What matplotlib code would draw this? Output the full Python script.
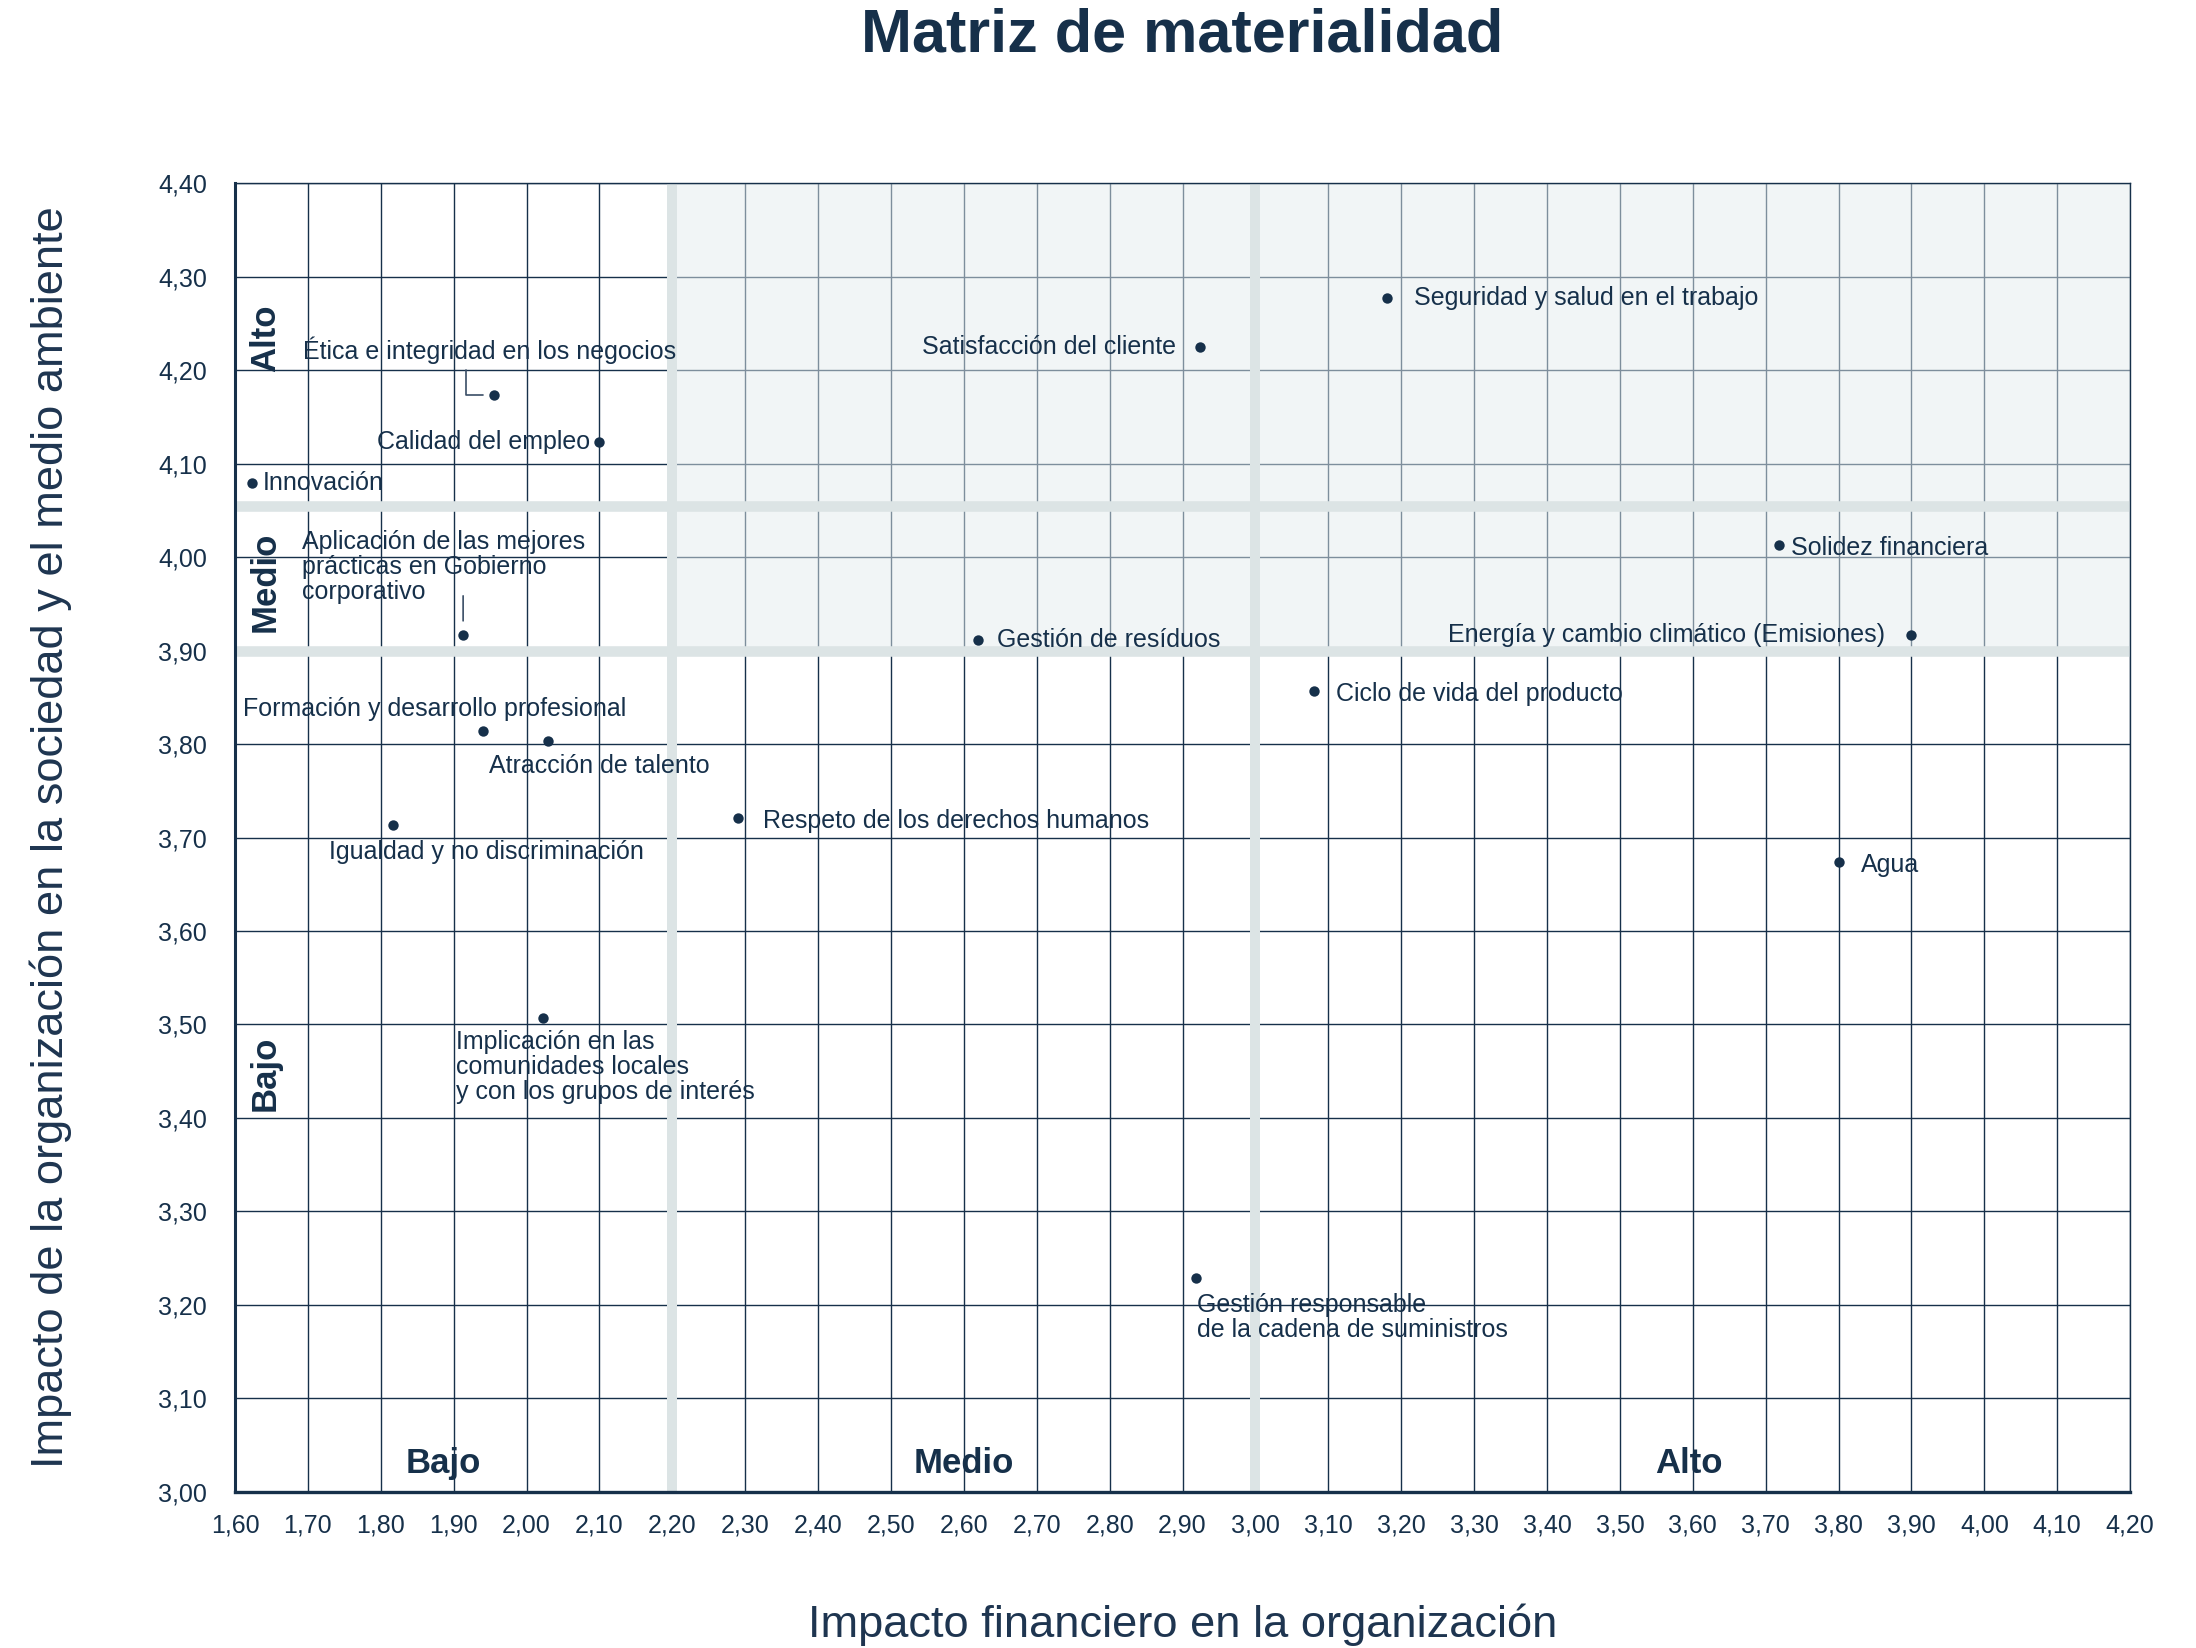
import numpy as np
import matplotlib
matplotlib.use("Agg")
import matplotlib.pyplot as plt
from matplotlib.patches import Rectangle

plt.rcParams["font.family"] = ["Liberation Sans", "DejaVu Sans"]

NAVY = "#16304a"
BAND = "#dce4e5"

# --- datos ---
temas = [
    "Innovación",
    "Ética e integridad en los negocios",
    "Calidad del empleo",
    "Satisfacción del cliente",
    "Seguridad y salud en el trabajo",
    "Aplicación de las mejores\nprácticas en Gobierno\ncorporativo",
    "Gestión de resíduos",
    "Solidez financiera",
    "Energía y cambio climático (Emisiones)",
    "Ciclo de vida del producto",
    "Formación y desarrollo profesional",
    "Atracción de talento",
    "Igualdad y no discriminación",
    "Respeto de los derechos humanos",
    "Agua",
    "Implicación en las\ncomunidades locales\ny con los grupos de interés",
    "Gestión responsable\nde la cadena de suministros",
]
impacto_fin = [1.623, 1.955, 2.100, 2.924, 3.180, 1.913, 2.620, 3.718, 3.900,
               3.080, 1.940, 2.030, 1.817, 2.290, 3.800, 2.023, 2.918]
impacto_soc = [4.079, 4.174, 4.123, 4.225, 4.277, 3.917, 3.911, 4.013, 3.917,
               3.857, 3.814, 3.803, 3.713, 3.721, 3.674, 3.507, 3.229]

x_ticks = np.round(np.arange(1.6, 4.21, 0.1), 2)
y_ticks = np.round(np.arange(3.0, 4.41, 0.1), 2)
x_cortes = [2.2, 3.0]
y_cortes = [3.90, 4.055]
niveles = ["Bajo", "Medio", "Alto"]

# colocación de etiquetas (offset en puntos, alineación)
offsets = [(4, 0), (-1.5, 16), (-3.5, 0), (-8.5, 0), (10, 0), (-58, 11),
           (6.5, 0), (4.5, -1), (-9.5, 0), (8, -1), (-86.5, 8), (-21.5, -9),
           (-23, -9.5), (9, -1), (8, -1), (-31.5, -4.5), (0.5, -5.5)]
ha = ["left", "center", "right", "right", "left", "left", "left", "left",
      "right", "left", "left", "left", "left", "left", "left", "left", "left"]
va = ["center", "center", "center", "center", "center", "bottom", "center",
      "center", "center", "center", "center", "center", "center", "center",
      "center", "top", "top"]

fig = plt.figure(figsize=(10.98, 8.24), dpi=200)
ax = fig.add_axes([0.107, 0.0949, 0.863, 0.7938])
ax.set_xlim(1.6, 4.2)
ax.set_ylim(3.0, 4.4)

# rejilla
for xv in x_ticks:
    ax.axvline(xv, color=NAVY, lw=0.5, zorder=1)
for yv in y_ticks:
    ax.axhline(yv, color=NAVY, lw=0.5, zorder=1)

# zona material sombreada
ax.add_patch(Rectangle((x_cortes[0], y_cortes[0]), 4.2 - x_cortes[0],
                       4.4 - y_cortes[0], facecolor="#e4ecee", alpha=0.5,
                       edgecolor="none", zorder=2))
for xv in x_cortes:
    ax.axvline(xv, color=BAND, lw=3.6, zorder=3)
for yv in y_cortes:
    ax.axhline(yv, color=BAND, lw=3.8, zorder=3)

ax.scatter(impacto_fin, impacto_soc, s=14, color=NAVY, zorder=5, linewidths=0)

for t, x, y, off, h, v in zip(temas, impacto_fin, impacto_soc, offsets, ha, va):
    ax.annotate(t, (x, y), xytext=off, textcoords="offset points", ha=h, va=v,
                fontsize=9, color=NAVY, linespacing=1.05, zorder=6)

# líneas guía
ax.annotate("", (impacto_fin[1], impacto_soc[1]), xytext=(-10, 9),
            textcoords="offset points",
            arrowprops=dict(arrowstyle="-", color="#3a4e66", lw=0.6,
                            connectionstyle="angle,angleA=90,angleB=0,rad=0",
                            shrinkA=0, shrinkB=4), zorder=6)
ax.annotate("", (impacto_fin[5], impacto_soc[5]), xytext=(0, 14),
            textcoords="offset points",
            arrowprops=dict(arrowstyle="-", color="#3a4e66", lw=0.6,
                            shrinkA=0, shrinkB=5), zorder=6)

# niveles en los ejes
for nivel, xc in zip(niveles, [1.886, 2.60, 3.595]):
    ax.text(xc, 3.012, nivel, ha="center", va="bottom", fontsize=12.5,
            fontweight="bold", color=NAVY, zorder=6)
for nivel, yc in zip(niveles, [3.448, 3.974, 4.234]):
    ax.text(1.642, yc, nivel, ha="center", va="center", rotation=90,
            fontsize=12.5, fontweight="bold", color=NAVY, zorder=6)

ax.set_xticks(x_ticks)
ax.set_xticklabels([f"{v:.2f}".replace(".", ",") for v in x_ticks])
ax.set_yticks(y_ticks)
ax.set_yticklabels([f"{v:.2f}".replace(".", ",") for v in y_ticks])
ax.tick_params(axis="x", length=0, pad=8, labelsize=9, labelcolor=NAVY)
ax.tick_params(axis="y", length=0, pad=10, labelsize=9, labelcolor=NAVY)
for side, lw in [("left", 1.1), ("bottom", 1.2), ("top", 0.5), ("right", 0.5)]:
    ax.spines[side].set_color(NAVY)
    ax.spines[side].set_linewidth(lw)
    ax.spines[side].set_zorder(7)

fig.text(0.5385, 0.978, "Matriz de materialidad", ha="center", va="center",
         fontsize=22, fontweight="bold", color=NAVY)
fig.text(0.5385, 0.014, "Impacto financiero en la organización", ha="center",
         va="center", fontsize=16.3, color="#1e3550")
fig.text(0.023, 0.4918,
         "Impacto de la organización en la sociedad y el medio ambiente",
         ha="center", va="center", rotation=90, fontsize=16.3, color="#1e3550")

fig.savefig("out.png", dpi=200)
